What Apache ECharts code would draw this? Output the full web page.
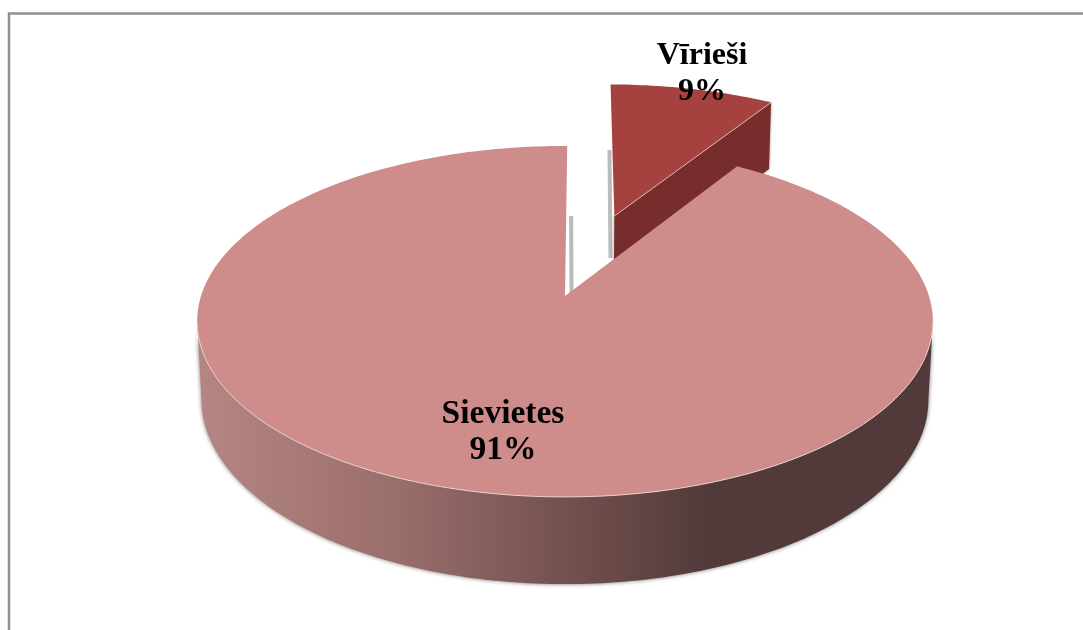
<!DOCTYPE html>
<html>
<head>
<meta charset="utf-8">
<style>html,body{margin:0;padding:0;background:#fff}#c{width:1083px;height:630px}</style>
<script src="https://cdn.jsdelivr.net/npm/echarts@6/dist/echarts.min.js"></script>
</head>
<body>
<div id="c"></div>
<script>
var categories = ['Vīrieši', 'Sievietes'];
var values = [8.8, 91.2];
var explode = [0.52, 0];
var topColors = ['#a5423f', '#ce8c8b'];
var labelAnchors = [[702, 56], [503, 414]];
var labelSizes = [32, 33.5];

// perspective projection of the pie disc
var OX = 565, OY = 296, SX = 364, SY = 171.8, K = 0.145, DEPTH = 78, DM = 0.012, START = 0.4;
function proj(X, Y, z) {
  var den = 1 + K * Y + DM * z;
  return [OX + SX * X / den, OY + (-SY * Y + DEPTH * z) / den];
}
function rad(d) { return d * Math.PI / 180; }
function ring(a0, a1, ex, ey, z) {
  var pts = [], n = Math.max(2, Math.ceil(Math.abs(a1 - a0)));
  for (var i = 0; i <= n; i++) {
    var a = rad(a0 + (a1 - a0) * i / n);
    pts.push(proj(ex + Math.sin(a), ey + Math.cos(a), z));
  }
  return pts;
}
var total = values.reduce(function (a, b) { return a + b; }, 0);

function renderItem(params, api) {
  var i = params.dataIndex;
  var before = 0;
  for (var j = 0; j < i; j++) before += values[j];
  var a0 = START + before / total * 360, a1 = START + (before + values[i]) / total * 360;
  var mid = rad((a0 + a1) / 2);
  var ex = explode[i] * Math.sin(mid), ey = explode[i] * Math.cos(mid);
  var children = [];
  var apexT = proj(ex, ey, 0);
  var sil = Math.acos(-K) * 180 / Math.PI;

  if (i === 0) {
    // exploded slice: cast shade, cut wall, top face
    var corner = proj(ex + Math.sin(rad(a1)), ey + Math.cos(rad(a1)), 0);
    var cornerB = proj(ex + Math.sin(rad(a1)), ey + Math.cos(rad(a1)), 1);
    var apexB = proj(ex, ey, 1);
    children.push({ type: 'polyline', shape: { points: [[609.5, 150], [610.5, 258]] },
      style: { stroke: 'rgba(120,120,120,0.5)', lineWidth: 4, fill: null } });
    children.push({ type: 'polygon', shape: { points: [apexT, corner, cornerB, apexB] },
      style: { fill: '#772d2b', shadowBlur: 3, shadowColor: 'rgba(0,0,0,0.45)' } });
    children.push({ type: 'polygon', shape: { points: [apexT].concat(ring(a0, a1, ex, ey, 0)) },
      style: { fill: topColors[i] } });
    children.push({ type: 'polyline', shape: { points: [apexT, corner] },
      style: { stroke: '#d9b5b3', lineWidth: 1, fill: null } });
  } else {
    var front = ring(sil, 360 - sil, 0, 0, 0);
    var back = ring(360 - sil, sil, 0, 0, 1);
    var grad = new echarts.graphic.LinearGradient(196, 0, 932, 0, [
      { offset: 0, color: '#b58684' },
      { offset: 0.27, color: '#9a6e6b' },
      { offset: 0.52, color: '#704f4d' },
      { offset: 0.7, color: '#523a3a' },
      { offset: 1, color: '#523a3a' }
    ], true);
    children.push({ type: 'polyline', shape: { points: [proj(0.018, 0, 0), proj(0.018, 0.5, 0)] },
      style: { stroke: 'rgba(120,120,120,0.5)', lineWidth: 4, fill: null } });
    children.push({ type: 'polygon', shape: { points: front.concat(back) },
      style: { fill: grad, shadowBlur: 4, shadowColor: 'rgba(0,0,0,0.55)' } });
    children.push({ type: 'polygon', shape: { points: [apexT].concat(ring(a0, a1, 0, 0, 0)) },
      style: { fill: topColors[i] } });
    children.push({ type: 'polyline', shape: { points: front },
      style: { stroke: '#e6d2d0', lineWidth: 1, fill: null } });
  }
  return { type: 'group', children: children };
}

function renderLabel(params, api) {
  var i = params.dataIndex;
  return {
    type: 'text',
    style: {
      x: labelAnchors[i][0], y: labelAnchors[i][1],
      text: categories[i] + '\n' + Math.round(values[i] / total * 100) + '%',
      align: 'center', verticalAlign: 'middle',
      font: 'bold ' + labelSizes[i] + 'px "Liberation Serif"', lineHeight: 36, fill: '#000'
    },
    position: [0, 18]
  };
}

var chart = echarts.init(document.getElementById('c'), null, { renderer: 'canvas' });
chart.setOption({
  animation: false,
  backgroundColor: '#fff',
  graphic: [{ type: 'polyline', z: -1, silent: true,
    shape: { points: [[9, 630], [9, 13.5], [1083, 13.5]] },
    style: { stroke: '#8f8f8f', lineWidth: 2.5, fill: null } }],
  series: [
    { type: 'custom', coordinateSystem: 'none', renderItem: renderItem, data: values, z: 2, silent: true },
    { type: 'custom', coordinateSystem: 'none', renderItem: renderLabel, data: values, z: 3, silent: true }
  ]
});
</script>
</body>
</html>
